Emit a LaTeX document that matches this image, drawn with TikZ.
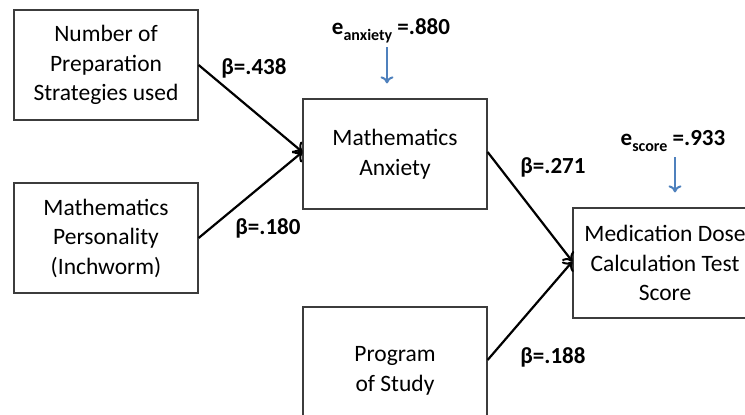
\documentclass[tikz,border=0pt]{standalone}
\usepackage{fontspec}
\setmainfont{Carlito}
\usetikzlibrary{arrows.meta}
\definecolor{errblue}{RGB}{79,129,189}
\definecolor{boxline}{RGB}{60,60,60}
\begin{document}
\begin{tikzpicture}[x=1pt,y=-1pt,
  varbox/.style={draw=boxline,line width=1.2pt,minimum width=184pt,minimum height=110pt,
    align=center,inner sep=0pt,font=\fontsize{23.5}{29.5}\selectfont},
  path/.style={draw=black,line width=2.2pt,-{To[length=8pt,width=15pt,line width=2pt]}},
  errarrow/.style={draw=errblue,line width=2.2pt,-{To[length=7pt,width=13pt,line width=2pt]}},
  coef/.style={font=\fontsize{23}{26}\selectfont\bfseries,inner sep=0pt},
  errlab/.style={font=\fontsize{23}{26}\selectfont\bfseries,inner sep=0pt}]
\useasboundingbox (0,0) rectangle (745,415);
\clip (0,0) rectangle (745,415);
\node[varbox] (prep) at (106,65) {Number of\\Preparation\\Strategies used};
\node[varbox] (pers) at (106,238) {Mathematics\\Personality\\(Inchworm)};
\node[varbox] (anx) at (395,154) {Mathematics\\Anxiety};
\node[varbox] (score) at (665,263) {Medication Dose\\Calculation Test\\Score};
\node[varbox,minimum height=128pt] (prog) at (395,371) {Program\\of Study};
\draw[path] (prep.east) -- ([yshift=2pt]anx.west);
\draw[path] (pers.east) -- ([yshift=2pt]anx.west);
\draw[path] ([yshift=2pt]anx.east) -- ([yshift=1.5pt]score.west);
\draw[path] ([yshift=11pt]prog.east) -- ([yshift=1.5pt]score.west);
\node[coef] (b1) at (254,68) {β=.438};
\node[coef] (b2) at (268,228) {β=.180};
\node[coef] (b3) at (553,167) {β=.271};
\node[coef] (b4) at (553,357) {β=.188};
\node[errlab] (ea) at (391,31) {e\raisebox{-6pt}{\fontsize{16}{16}\selectfont anxiety} =.880};
\node[errlab] (es) at (673,141) {e\raisebox{-6pt}{\fontsize{16}{16}\selectfont score} =.933};
\coordinate (eat) at (387,47);
\coordinate (est) at (675,157);
\draw[errarrow] (eat) -- ([yshift=15pt]anx.north -| eat);
\draw[errarrow] (est) -- ([yshift=15pt]score.north -| est);
\end{tikzpicture}
\end{document}
